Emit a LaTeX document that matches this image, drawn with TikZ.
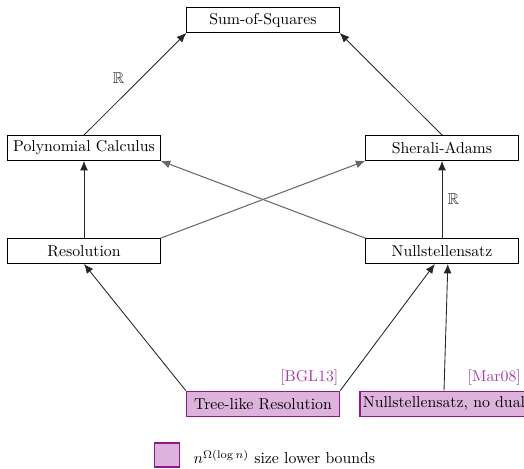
\documentclass[tikz,border=0pt]{standalone}
\usepackage{amsmath}
\usepackage{amssymb}
\usetikzlibrary{arrows.meta}
\definecolor{lbfill}{HTML}{DDB3DD}
\definecolor{lbdraw}{HTML}{8B1A8B}
\definecolor{refcol}{HTML}{A83CA8}
\tikzset{
    > = {Latex[length = 6pt, width = 5pt]},
    box/.style = {draw, minimum width = 3.4cm, minimum height = 0.56cm, inner sep = 2pt},
    lowbox/.style = {box, fill = lbfill, draw = lbdraw, line width = 1pt},
    cite/.style = {refcol, anchor = south east, inner xsep = 1pt},
    every edge/.style = {draw, ->, black!85, line width = 0.55pt},
    cross/.style = {draw, ->, black!60, line width = 0.65pt}
}

\begin{document}
\begin{tikzpicture}[x = 0.02224cm, y = -0.02224cm]
    \useasboundingbox (0, 0) rectangle (524, 468);

    \node[box] (sos) at (263, 20) {Sum-of-Squares};
    \node[box] (pc) at (84, 148) {Polynomial Calculus};
    \node[box] (sa) at (442, 148) {Sherali-Adams};
    \node[box] (res) at (84, 251) {Resolution};
    \node[box] (ns) at (442, 251) {Nullstellensatz};
    \node[lowbox] (tlres) at (263, 404) {Tree-like Resolution};
    \node[lowbox, anchor = west] (nsnd) at (359, 404) {Nullstellensatz, no dual};

    \node[cite] at (tlres.north east) {[BGL13]};
    \node[cite, xshift = -0.14cm] at (nsnd.north east) {[Mar08]};

    \draw (pc.north) edge node[above left, pos = 0.45]{$\mathbb{R}$} (sos.south west);
    \draw (sa.north) edge (sos.south east);
    \draw (res.north) edge (pc.south);
    \draw (ns.north) edge node[right]{$\mathbb{R}$} (sa.south);
    \draw[cross] (res.north east) -- (sa.south west);
    \draw[cross] (ns.north west) -- (pc.south east);
    \draw (tlres.north west) edge (res.south);
    \draw (tlres.north east) edge ([xshift = -0.16cm]ns.south);
    \draw (nsnd.north) edge ([xshift = 0.13cm]ns.south);

    % legend
    \node[lowbox, minimum width = 0.56cm, minimum height = 0.53cm] (key) at (167, 455) {};
    \node[anchor = west] (keytext) at (188, 457) {$n^{\Omega(\log n)}$ size lower bounds};
\end{tikzpicture}
\end{document}
